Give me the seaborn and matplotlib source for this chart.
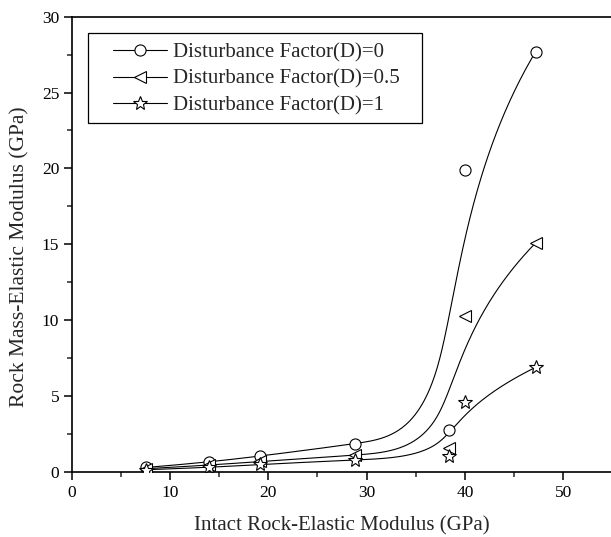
import numpy as np
import pandas as pd
import matplotlib
matplotlib.use("Agg")
import matplotlib.pyplot as plt
from matplotlib.lines import Line2D
from matplotlib.patches import Rectangle
import seaborn as sns

# data
intact_E = [7.6, 14.0, 19.2, 28.8, 38.4, 40.0, 47.2]
mass_E_d0 = [0.30, 0.65, 1.05, 1.85, 2.80, 19.9, 27.7]
mass_E_d05 = [0.22, 0.45, 0.70, 1.10, 1.60, 10.3, 15.1]
mass_E_d1 = [0.15, 0.30, 0.50, 0.80, 1.05, 4.60, 6.90]
series_labels = ["Disturbance Factor(D)=0", "Disturbance Factor(D)=0.5",
                 "Disturbance Factor(D)=1"]


def bspline(px, py, n=400):
    # clamped cubic B-spline with the data points as control points (Origin style)
    pts = np.column_stack([px, py])
    k = 3
    m = len(pts)
    knots = np.concatenate([np.zeros(k), np.arange(m - k + 1), np.full(k, m - k)]).astype(float)
    t = np.linspace(0, m - k, n)
    t[-1] -= 1e-9

    def basis(i, p, tt):
        if p == 0:
            return ((knots[i] <= tt) & (tt < knots[i + 1])).astype(float)
        a = 0.0
        d1 = knots[i + p] - knots[i]
        d2 = knots[i + p + 1] - knots[i + 1]
        if d1 > 0:
            a = a + (tt - knots[i]) / d1 * basis(i, p - 1, tt)
        if d2 > 0:
            a = a + (knots[i + p + 1] - tt) / d2 * basis(i + 1, p - 1, tt)
        return a

    out = np.zeros((n, 2))
    for i in range(m):
        out += basis(i, k, t)[:, None] * pts[i]
    return out[:, 0], out[:, 1]


sns.set_style("ticks")
plt.rcParams['font.family'] = ['Liberation Serif', 'DejaVu Serif']
plt.rcParams['xtick.direction'] = 'out'
plt.rcParams['ytick.direction'] = 'out'

fig = plt.figure(figsize=(6.11, 5.37), dpi=100)
ax = fig.add_axes([0.1173, 0.121, 0.8827, 0.848])

markers = ["o", "<", "*"]
msizes = [8, 9, 10]
handles = []
for ys, lab, mk, ms in zip([mass_E_d0, mass_E_d05, mass_E_d1], series_labels, markers, msizes):
    cx, cy = bspline(intact_E, ys)
    curve = pd.DataFrame({"x": cx, "y": cy})
    sns.lineplot(data=curve, x="x", y="y", ax=ax, color="black", lw=0.8,
                 sort=False, estimator=None)
    ax.plot(intact_E, ys, linestyle="none", marker=mk, ms=ms, mfc="white",
            mec="black", mew=0.8, zorder=3)
    handles.append(Line2D([], [], color="black", lw=0.8, marker=mk, ms=ms,
                          mfc="white", mec="black", mew=0.8, label=lab))

ax.set_xlim(0, 54.86)
ax.set_ylim(0, 30)
ax.set_xticks([0, 10, 20, 30, 40, 50])
ax.set_xticks(np.arange(5, 55, 10), minor=True)
ax.set_yticks([0, 5, 10, 15, 20, 25, 30])
ax.set_yticks(np.arange(2.5, 30, 5), minor=True)
ax.tick_params(axis="both", which="major", labelsize=12.5, length=6, width=1.1,
               colors="black", pad=3)
ax.tick_params(axis="both", which="minor", length=3.5, width=1.1)
for s in ["left", "bottom", "top"]:
    ax.spines[s].set_linewidth(1.2)
    ax.spines[s].set_color("black")
ax.spines["right"].set_visible(False)

ax.set_xlabel("Intact Rock-Elastic Modulus (GPa)", fontsize=15, labelpad=11)
ax.set_ylabel("Rock Mass-Elastic Modulus (GPa)", fontsize=15.5)
ax.yaxis.set_label_coords(-0.078, 0.472)

# legend box drawn separately so the padding matches the original
ax.add_patch(Rectangle((0.0302, 0.767), 0.6194, 0.1965, transform=ax.transAxes,
                       fill=False, edgecolor="black", lw=0.9, zorder=4))
ax.legend(handles=handles, loc="center left", bbox_to_anchor=(0.0766, 0.863),
          fontsize=15, frameon=False, handlelength=2.59, handletextpad=0.27,
          borderpad=0, borderaxespad=0, labelspacing=0.32)

fig.savefig("out.png", dpi=100)
